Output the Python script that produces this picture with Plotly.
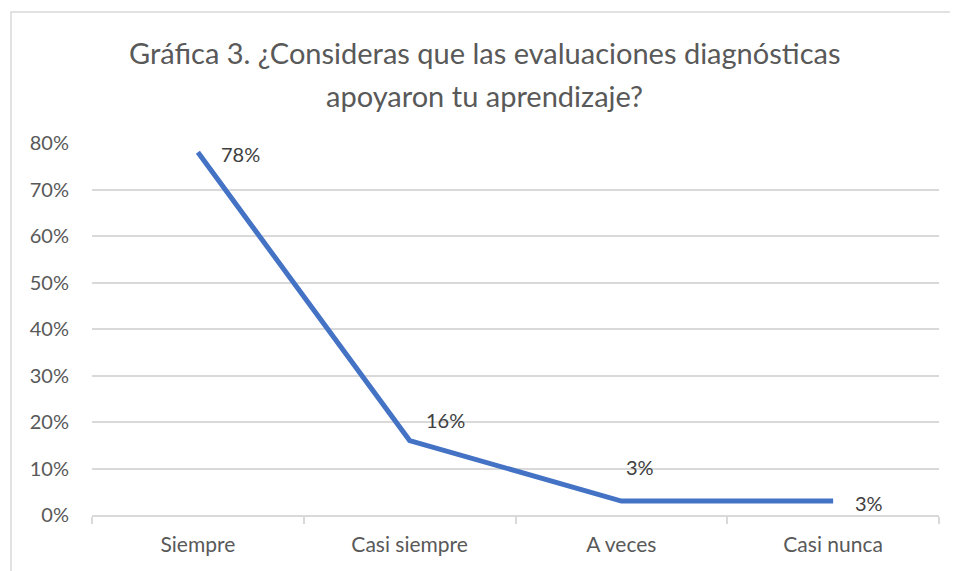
import plotly.graph_objects as go

categorias = ["Siempre", "Casi siempre", "A veces", "Casi nunca"]
porcentajes = [0.78, 0.16, 0.03, 0.03]
titulo = ["Gráfica 3. ¿Consideras que las evaluaciones diagnósticas",
          "apoyaron tu aprendizaje?"]

# desplazamiento de cada etiqueta de datos (px)
offsets = [(43, -2), (36, 21), (19, 34), (36, -2)]

FONT = "Lato"
GRIS = "#595959"

fig = go.Figure()
fig.add_trace(go.Scatter(
    x=categorias, y=porcentajes,
    mode="lines",
    line=dict(color="#4472C4", width=5),
    hoverinfo="x+y",
    showlegend=False,
))

for cat, val, (dx, dy) in zip(categorias, porcentajes, offsets):
    fig.add_annotation(
        x=cat, y=val, text=f"{val:.0%}",
        showarrow=False, xshift=dx, yshift=dy,
        font=dict(family=FONT, size=20, color="#404040"),
    )

# título en dos líneas
for i, linea in enumerate(titulo):
    fig.add_annotation(
        xref="paper", yref="paper",
        x=0.4634, y=[1.2446, 1.128][i],
        xanchor="center", yanchor="middle",
        text=linea, showarrow=False,
        font=dict(family=FONT, size=29, color=GRIS),
    )

# borde del área del gráfico
fig.add_shape(
    type="rect", xref="paper", yref="paper",
    x0=-0.0956, x1=1.2, y0=-0.3, y1=1.352,
    line=dict(color="#d9d9d9", width=1.5),
)

# la página añade 8 px de margen al cuerpo
fig.update_layout(
    width=950, height=563,
    paper_bgcolor="white",
    plot_bgcolor="white",
    margin=dict(l=84, r=19, t=135, b=56),
    font=dict(family=FONT, color=GRIS, size=20),
    xaxis=dict(
        type="category",
        range=[-0.5, 3.5],
        showgrid=False,
        showline=True, linecolor="#d9d9d9", linewidth=1.5,
        ticks="outside", tickson="boundaries",
        ticklen=7, tickcolor="#d9d9d9", tickwidth=1.5,
        ticklabelstandoff=10,
        tickfont=dict(size=21, color=GRIS),
        fixedrange=True,
    ),
    yaxis=dict(
        range=[0, 0.8],
        dtick=0.1,
        tickformat=".0%",
        showgrid=True, gridcolor="#d9d9d9", gridwidth=1.5,
        zeroline=False,
        showline=False,
        ticks="",
        ticklabelstandoff=22,
        tickfont=dict(size=20, color=GRIS),
        fixedrange=True,
    ),
)

fig.write_html("out.html")
